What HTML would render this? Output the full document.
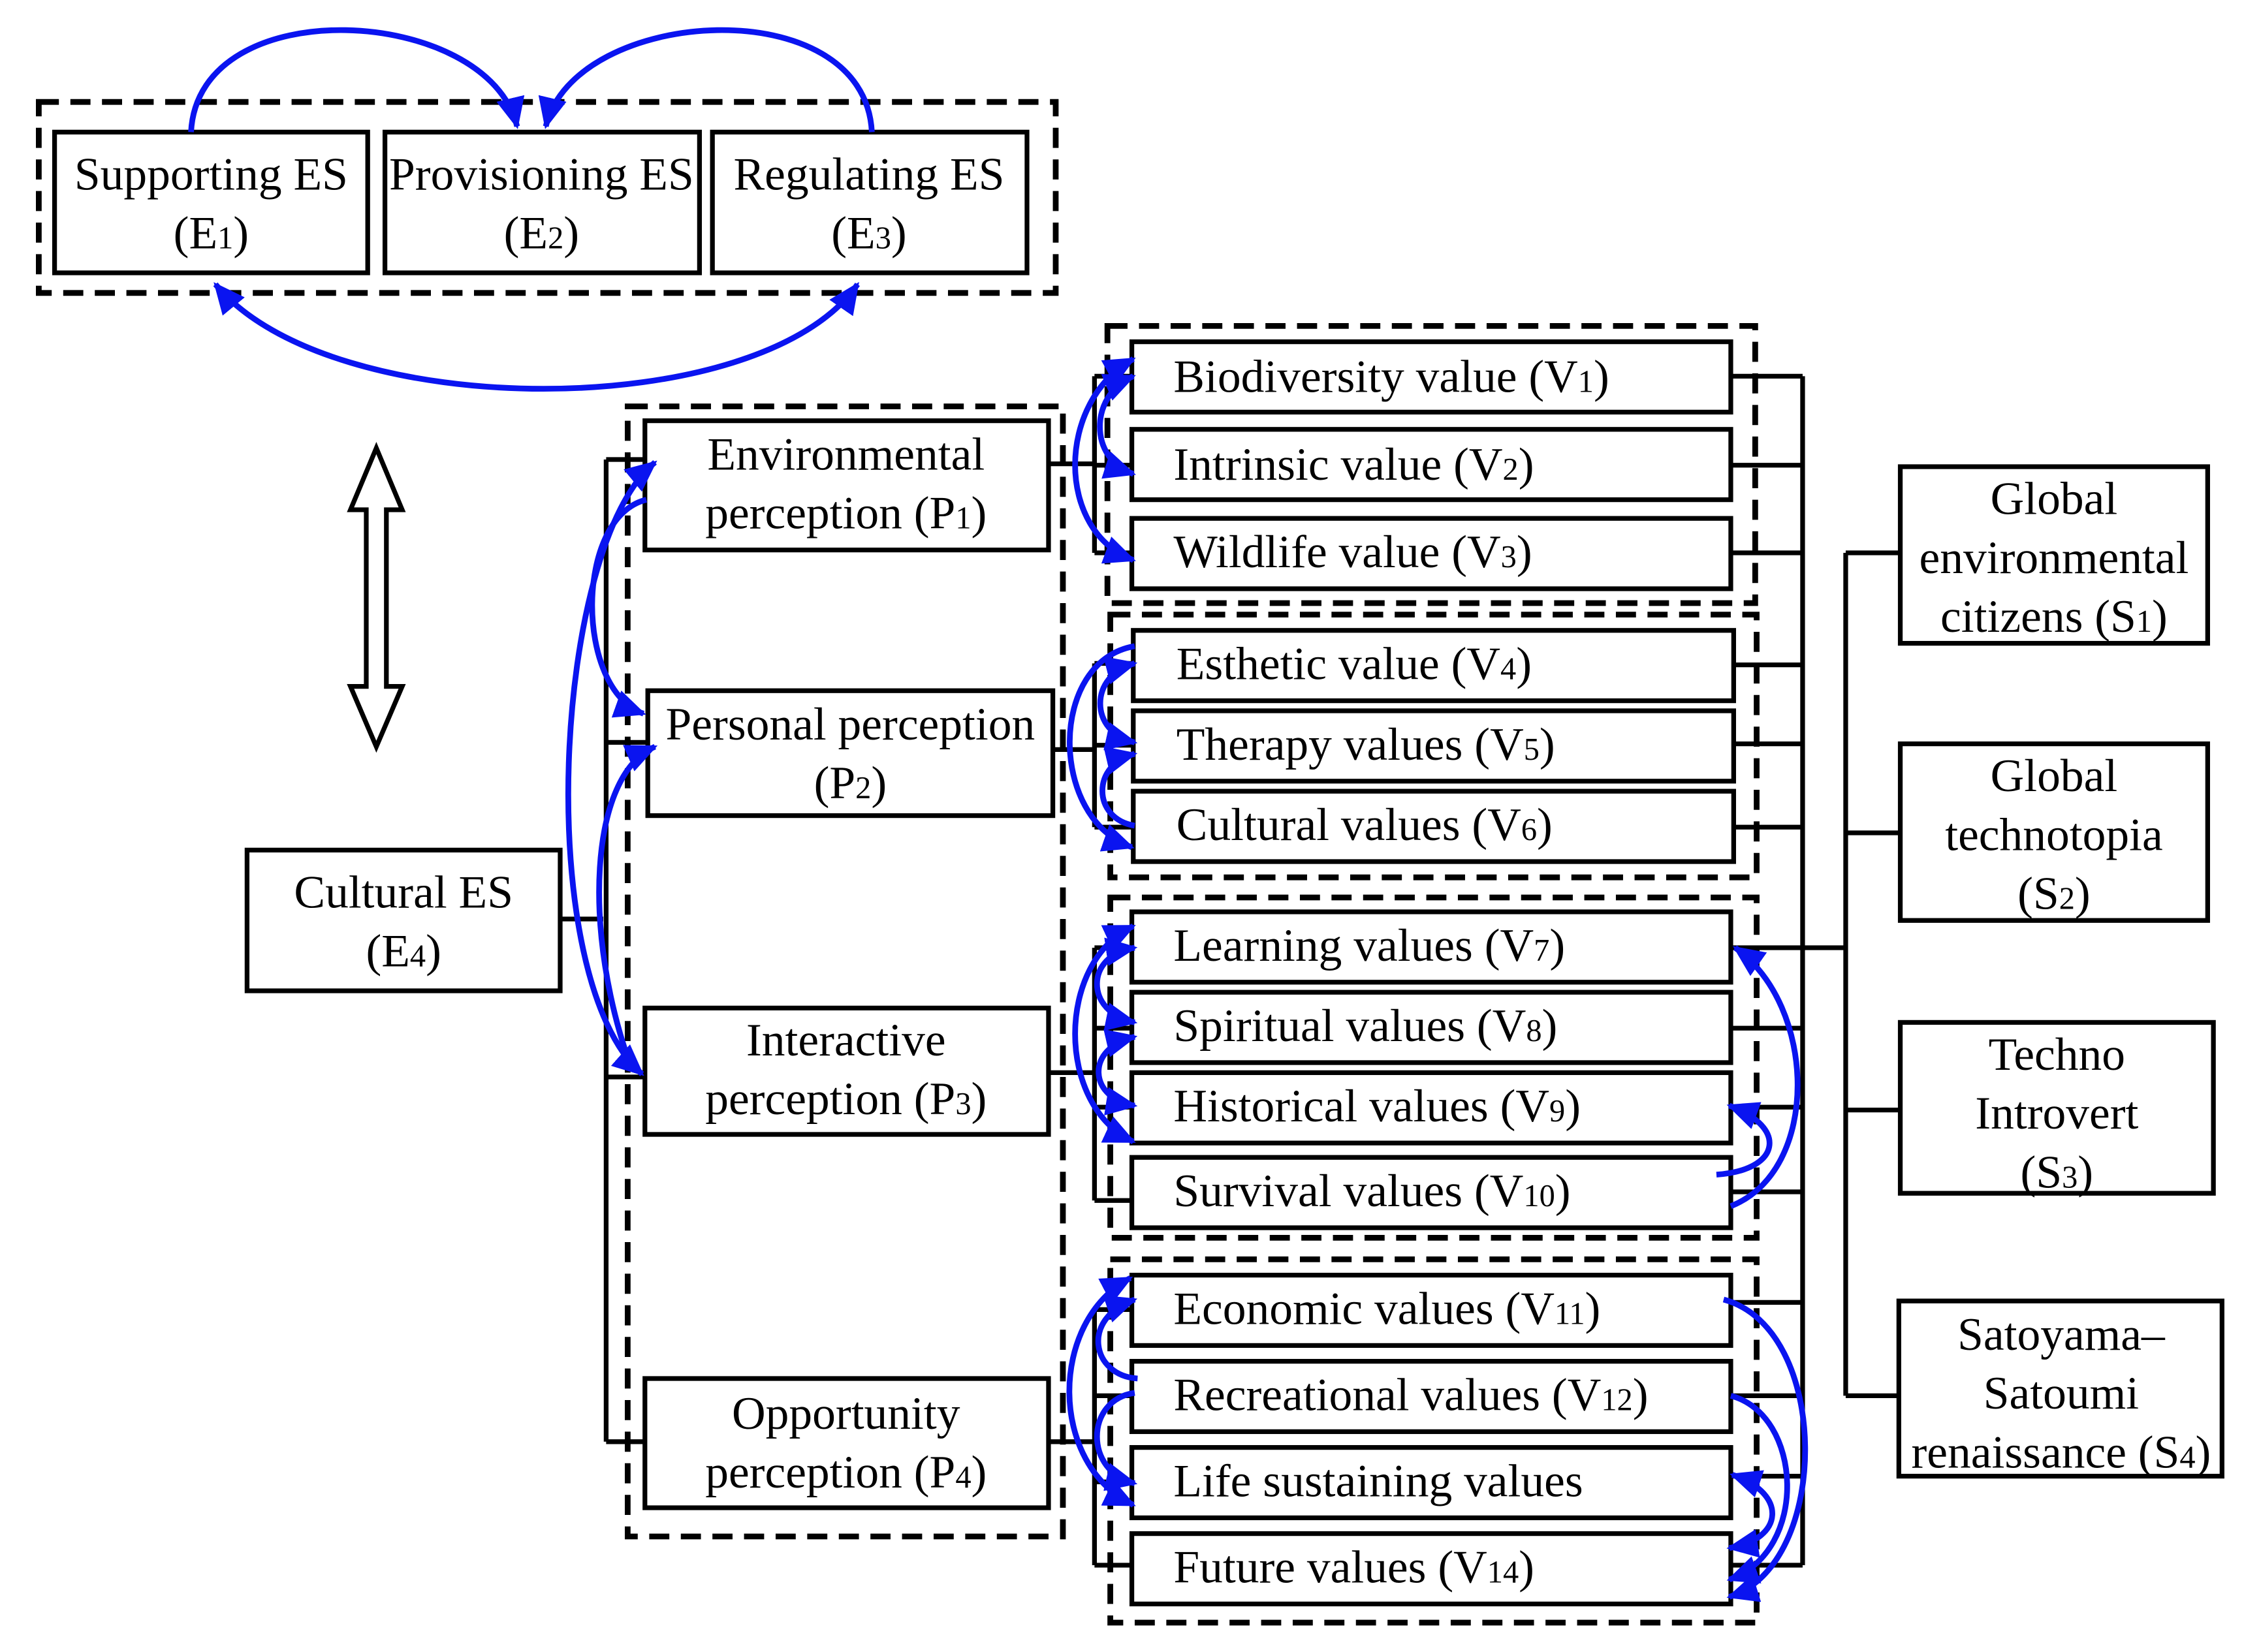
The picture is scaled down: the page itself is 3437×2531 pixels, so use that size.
<!DOCTYPE html>
<html><head><meta charset="utf-8"><style>
html,body{margin:0;padding:0;background:#fff;}
svg{display:block;}
text{font-family:"Liberation Serif",serif;font-size:32.5px;fill:#000;}
.s{font-size:22px;}
</style></head><body>
<svg width="3437" height="2531" viewBox="0 0 1562.3 1150.45" preserveAspectRatio="none" xmlns="http://www.w3.org/2000/svg">
<defs>
<marker id="a" viewBox="0 0 22 20" refX="20" refY="10" markerWidth="22" markerHeight="20" markerUnits="userSpaceOnUse" orient="auto-start-reverse"><path d="M0,0 L22,10 L0,20 Z" fill="#0a14f0"/></marker>
</defs>
<g fill="none" stroke="#000" stroke-width="4" stroke-dasharray="14 8">
<rect x="27" y="71" width="708" height="133"/>
<rect x="437" y="283" width="303" height="787"/>
<rect x="771" y="227" width="451" height="193"/>
<rect x="773" y="428" width="450" height="183"/>
<rect x="773" y="625" width="450" height="237"/>
<rect x="773" y="877" width="450" height="253"/>
</g>
<g fill="none" stroke="#000" stroke-width="3.3">
<path d="M390,640 H420 M422,320 V1004 M422,320 H449 M422,517 H451 M422,750 H449 M422,1004 H449"/>
<path d="M730,323 H762 M762,262 V385 M762,262 H788 M762,324 H788 M762,385 H788"/>
<path d="M733,522 H762 M762,462 V576 M762,462 H789 M762,519 H789 M762,576 H789"/>
<path d="M730,747 H762 M762,660 V836 M762,660 H788 M762,716 H788 M762,771 H788 M762,836 H788"/>
<path d="M730,1004 H762 M762,912 V1090 M762,912 H788 M762,972 H788 M762,1032 H788 M762,1090 H788"/>
<path d="M1205,262 H1255 M1255,262 V1090 M1205,324 H1255 M1205,385 H1255 M1207,463 H1255 M1207,518 H1255 M1207,576 H1255 M1205,660 H1285 M1205,716 H1255 M1205,771 H1255 M1205,830 H1255 M1205,907 H1255 M1205,972 H1255 M1205,1028 H1255 M1205,1090 H1255"/>
<path d="M1285,385 V972 M1285,385 H1323 M1285,580 H1323 M1285,773 H1323 M1285,972 H1322"/>
<rect x="38" y="92" width="218" height="98"/>
<rect x="268" y="92" width="219" height="98"/>
<rect x="496" y="92" width="219" height="98"/>
<rect x="172" y="592" width="218" height="98"/>
<rect x="449" y="293" width="281" height="90"/>
<rect x="451" y="481" width="282" height="87"/>
<rect x="449" y="702" width="281" height="88"/>
<rect x="449" y="960" width="281" height="90"/>
<g fill="#fff">
<rect x="788" y="238" width="417" height="49"/>
<rect x="788" y="299" width="417" height="49"/>
<rect x="788" y="361" width="417" height="49"/>
<rect x="789" y="439" width="418" height="49"/>
<rect x="789" y="495" width="418" height="49"/>
<rect x="789" y="551" width="418" height="49"/>
<rect x="788" y="635" width="417" height="49"/>
<rect x="788" y="691" width="417" height="49"/>
<rect x="788" y="747" width="417" height="49"/>
<rect x="788" y="806" width="417" height="49"/>
<rect x="788" y="888" width="417" height="49"/>
<rect x="788" y="948" width="417" height="49"/>
<rect x="788" y="1008" width="417" height="49"/>
<rect x="788" y="1068" width="417" height="49"/>
</g>
<rect x="1323" y="325" width="214" height="123"/>
<rect x="1323" y="518" width="214" height="123"/>
<rect x="1323" y="712" width="218" height="119"/>
<rect x="1322" y="906" width="225" height="122"/>
</g>
<polygon points="262,312 280,355 269,355 269,478 280,478 262,520 244,478 255,478 255,355 244,355" fill="#fff" stroke="#000" stroke-width="3.3"/>
<g fill="none" stroke="#0a14f0" stroke-width="4">
<path d="M133,92 C138,-8 340,4 360,88" marker-end="url(#a)"/>
<path d="M607,92 C602,-8 400,4 380,88" marker-end="url(#a)"/>
<path d="M150,198 C230,295 530,295 597,198" marker-start="url(#a)" marker-end="url(#a)"/>
<path d="M456,322 C385,380 370,680 447,748" marker-start="url(#a)" marker-end="url(#a)"/>
<path d="M450,348 C400,360 400,480 448,497" marker-end="url(#a)"/>
<path d="M440,745 C405,650 410,540 456,520" marker-end="url(#a)"/>
<path d="M789,250 C735,280 735,370 789,390" marker-start="url(#a)" marker-end="url(#a)"/>
<path d="M789,262 C758,275 758,320 789,330" marker-start="url(#a)" marker-end="url(#a)"/>
<path d="M790,450 C730,460 730,570 788,590" marker-end="url(#a)"/>
<path d="M790,462 C758,470 758,510 790,517" marker-start="url(#a)" marker-end="url(#a)"/>
<path d="M790,575 C760,570 760,532 790,525" marker-end="url(#a)"/>
<path d="M789,645 C735,670 735,770 789,795" marker-start="url(#a)" marker-end="url(#a)"/>
<path d="M790,660 C755,665 755,705 790,712" marker-start="url(#a)" marker-end="url(#a)"/>
<path d="M790,722 C755,730 758,765 790,770" marker-start="url(#a)" marker-end="url(#a)"/>
<path d="M1195,818 C1240,815 1245,785 1204,770" marker-end="url(#a)"/>
<path d="M1205,840 C1268,815 1265,700 1208,660" marker-end="url(#a)"/>
<path d="M792,960 C760,958 752,918 790,905" marker-end="url(#a)"/>
<path d="M787,890 C730,920 730,1020 789,1048" marker-start="url(#a)" marker-end="url(#a)"/>
<path d="M790,970 C755,975 755,1025 790,1033" marker-end="url(#a)"/>
<path d="M1200,905 C1275,925 1275,1090 1204,1112" marker-end="url(#a)"/>
<path d="M1205,972 C1255,985 1260,1080 1204,1100" marker-end="url(#a)"/>
<path d="M1206,1027 C1245,1040 1242,1072 1204,1078" marker-start="url(#a)" marker-end="url(#a)"/>
</g>
<g text-anchor="middle">
<text x="147" y="132">Supporting ES</text><text x="147" y="173">(E<tspan class="s">1</tspan>)</text>
<text x="377" y="132">Provisioning ES</text><text x="377" y="173">(E<tspan class="s">2</tspan>)</text>
<text x="605" y="132">Regulating ES</text><text x="605" y="173">(E<tspan class="s">3</tspan>)</text>
<text x="281" y="632">Cultural ES</text><text x="281" y="673">(E<tspan class="s">4</tspan>)</text>
<text x="589" y="327">Environmental</text><text x="589" y="368">perception (P<tspan class="s">1</tspan>)</text>
<text x="592" y="515">Personal perception</text><text x="592" y="556">(P<tspan class="s">2</tspan>)</text>
<text x="589" y="735">Interactive</text><text x="589" y="776">perception (P<tspan class="s">3</tspan>)</text>
<text x="589" y="995">Opportunity</text><text x="589" y="1036">perception (P<tspan class="s">4</tspan>)</text>
<text x="1430" y="358">Global</text><text x="1430" y="399">environmental</text><text x="1430" y="440">citizens (S<tspan class="s">1</tspan>)</text>
<text x="1430" y="551">Global</text><text x="1430" y="592">technotopia</text><text x="1430" y="633">(S<tspan class="s">2</tspan>)</text>
<text x="1432" y="745">Techno</text><text x="1432" y="786">Introvert</text><text x="1432" y="827">(S<tspan class="s">3</tspan>)</text>
<text x="1435" y="940">Satoyama–</text><text x="1435" y="981">Satoumi</text><text x="1435" y="1022">renaissance (S<tspan class="s">4</tspan>)</text>
</g>
<g>
<text x="817" y="273">Biodiversity value (V<tspan class="s">1</tspan>)</text>
<text x="817" y="334">Intrinsic value (V<tspan class="s">2</tspan>)</text>
<text x="817" y="395">Wildlife value (V<tspan class="s">3</tspan>)</text>
<text x="819" y="473">Esthetic value (V<tspan class="s">4</tspan>)</text>
<text x="819" y="529">Therapy values (V<tspan class="s">5</tspan>)</text>
<text x="819" y="585">Cultural values (V<tspan class="s">6</tspan>)</text>
<text x="817" y="669">Learning values (V<tspan class="s">7</tspan>)</text>
<text x="817" y="725">Spiritual values (V<tspan class="s">8</tspan>)</text>
<text x="817" y="781">Historical values (V<tspan class="s">9</tspan>)</text>
<text x="817" y="840">Survival values (V<tspan class="s">10</tspan>)</text>
<text x="817" y="922">Economic values (V<tspan class="s">11</tspan>)</text>
<text x="817" y="982">Recreational values (V<tspan class="s">12</tspan>)</text>
<text x="817" y="1042">Life sustaining values</text>
<text x="817" y="1102">Future values (V<tspan class="s">14</tspan>)</text>
</g>
</svg>
</body></html>
